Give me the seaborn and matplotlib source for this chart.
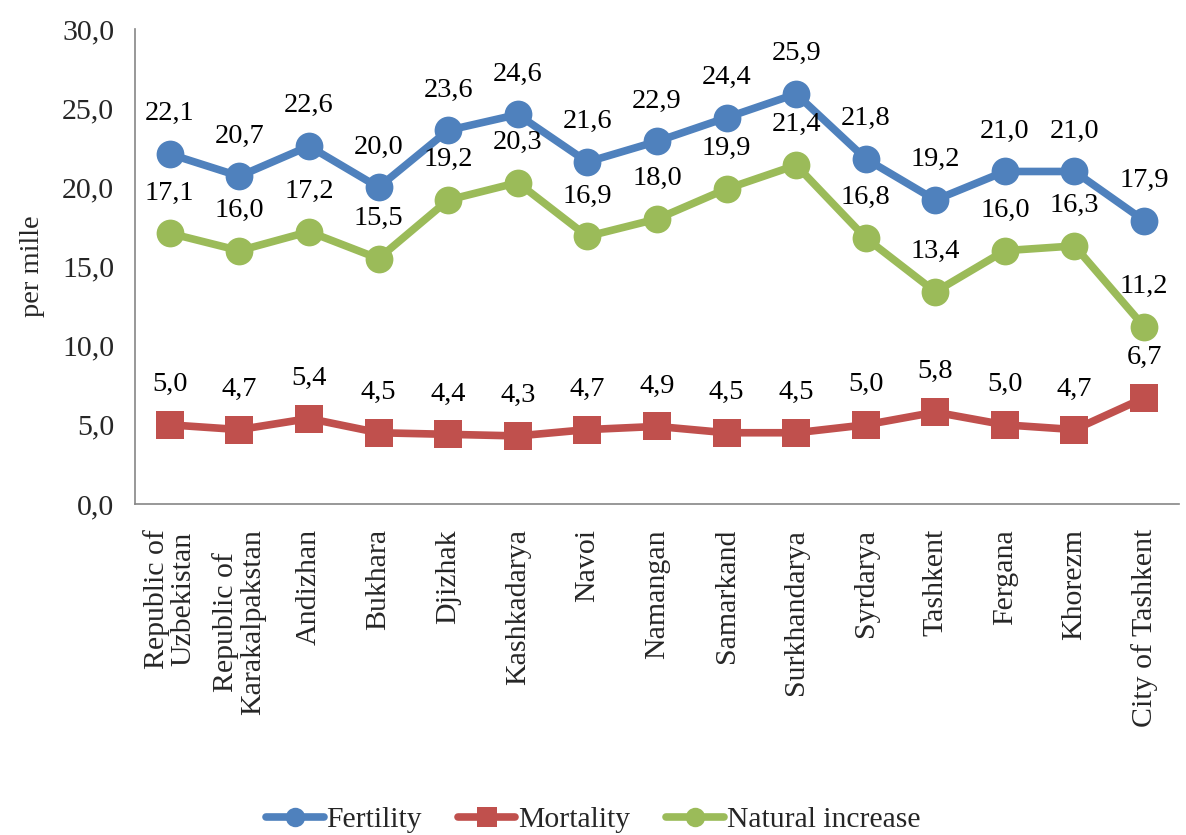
import matplotlib
matplotlib.use("Agg")
import matplotlib.pyplot as plt
import seaborn as sns
import pandas as pd
from matplotlib.ticker import FuncFormatter, FixedLocator

regions = ["Republic of\nUzbekistan", "Republic of\nKarakalpakstan", "Andizhan", "Bukhara", "Djizhak",
           "Kashkadarya", "Navoi", "Namangan", "Samarkand", "Surkhandarya", "Syrdarya", "Tashkent",
           "Fergana", "Khorezm", "City of Tashkent"]
fertility = [22.1, 20.7, 22.6, 20.0, 23.6, 24.6, 21.6, 22.9, 24.4, 25.9, 21.8, 19.2, 21.0, 21.0, 17.9]
mortality = [5.0, 4.7, 5.4, 4.5, 4.4, 4.3, 4.7, 4.9, 4.5, 4.5, 5.0, 5.8, 5.0, 4.7, 6.7]
natural = [17.1, 16.0, 17.2, 15.5, 19.2, 20.3, 16.9, 18.0, 19.9, 21.4, 16.8, 13.4, 16.0, 16.3, 11.2]
series_names = ["Fertility", "Mortality", "Natural increase"]
colors = ["#4F81BD", "#C0504D", "#9BBB59"]

sns.set_style("white")
plt.rcParams['font.family'] = ['Liberation Serif', 'DejaVu Serif']

df = pd.concat([
    pd.DataFrame({"region": regions, "value": vals, "series": name})
    for name, vals in zip(series_names, [fertility, mortality, natural])
], ignore_index=True)

fig = plt.figure(figsize=(11.86, 8.35), dpi=100)
ax = fig.add_axes([0.1138, 0.3964, 0.8802, 0.5689])

markers = {"Fertility": "o", "Mortality": "s", "Natural increase": "o"}
palette = dict(zip(series_names, colors))
for name in series_names:
    sub = df[df.series == name]
    sns.lineplot(data=sub, x="region", y="value", ax=ax, color=palette[name], marker=markers[name],
                 markersize=20, linewidth=5.5, markeredgewidth=0, sort=False, label=name)
    for xi, (r, v) in enumerate(zip(sub.region, sub.value)):
        ax.annotate(f"{v:.1f}".replace(".", ","), xy=(xi, v), xytext=(0, 29), textcoords="offset points",
                    ha="center", va="center", fontsize=20.5, color="black")

ax.set_xlim(-0.5, len(regions) - 0.5)
ax.set_ylim(0, 30)
ax.set_yticks([0, 5, 10, 15, 20, 25, 30])
ax.yaxis.set_major_formatter(FuncFormatter(lambda v, p: f"{v:.1f}".replace(".", ",")))
ax.set_xticks(range(len(regions)))
ax.set_xticklabels(regions, rotation=90, fontsize=21.5, va="top", ha="center", linespacing=1.05)
ax.xaxis.set_minor_locator(FixedLocator([i - 0.5 for i in range(len(regions) + 1)]))
ax.tick_params(axis="x", which="major", length=0, pad=18)
ax.tick_params(axis="x", which="minor", length=7, color="#868686", width=1.2, direction="out")
ax.tick_params(axis="y", length=7, color="#868686", width=1.2, direction="out", labelsize=21.5, pad=8)
ax.set_xlabel("")
ax.set_ylabel("per mille", fontsize=20.5, labelpad=12)
for s in ["top", "right"]:
    ax.spines[s].set_visible(False)
for s in ["left", "bottom"]:
    ax.spines[s].set_color("#868686")
    ax.spines[s].set_linewidth(1.2)

handles, labels = ax.get_legend_handles_labels()
ax.get_legend().remove()
fig.legend(handles, labels, loc="center", bbox_to_anchor=(0.5, 1 - 820 / 835), ncol=3, frameon=False,
           fontsize=21.3, handlelength=1.95, handletextpad=0.1, columnspacing=1.2, markerscale=0.7)

fig.savefig("out.png", dpi=100)
